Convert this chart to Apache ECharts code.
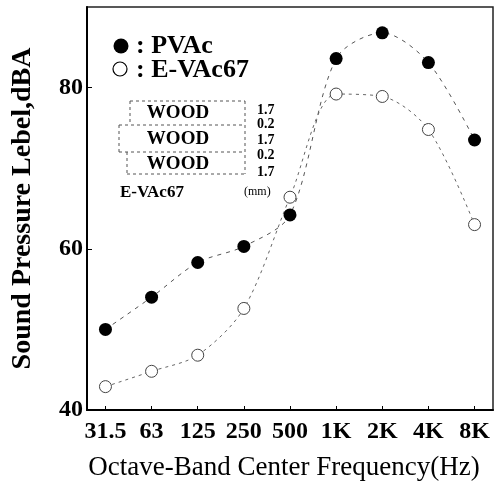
<!DOCTYPE html>
<html style="height: 100%">
<head>
	<meta charset="utf-8">
	<title>Sound Pressure Level</title>
	<script src="https://cdn.jsdelivr.net/npm/echarts@6/dist/echarts.min.js"></script>
</head>
<body style="height: 100%; margin: 0; background: #fff">
	<div id="main" style="width: 497px; height: 484px"></div>
	<script type="text/javascript">
		// octave bands
		var bands = ['31.5', '63', '125', '250', '500', '1K', '2K', '4K', '8K'];
		// dBA
		var pvac = [50.0, 54.0, 58.3, 60.3, 64.2, 83.6, 86.8, 83.1, 73.5];
		var evac = [42.9, 44.8, 46.8, 52.6, 66.4, 79.2, 78.9, 74.8, 63.0];
		var yTicks = [40, 60, 80];
		var layers = ['1.7', '0.2', '1.7', '0.2', '1.7'];

		var serif = 'Liberation Serif';
		var pos = bands.map(function(b, i){ return i; });
		var pair = function(arr){
			return arr.map(function(v, i){ return [i, v]; });
		};

		var myChart = echarts.init(document.getElementById('main'));

		var dashLine = function(x1, y1, x2, y2){
			return {
				type: 'line',
				shape: {x1: x1, y1: y1, x2: x2, y2: y2},
				style: {stroke: '#555', lineWidth: 1, lineDash: [3, 3]}
			};
		};

		var gfx = [
			{type: 'circle', shape: {cx: 121, cy: 46, r: 7.5}, style: {fill: '#000'}},
			{type: 'text', x: 136, y: 46, style: {text: ': PVAc', font: 'bold 26px "' + serif + '"', fill: '#000', verticalAlign: 'middle'}},
			{type: 'circle', shape: {cx: 120, cy: 69, r: 7}, style: {fill: '#fff', stroke: '#000', lineWidth: 1.2}},
			{type: 'text', x: 136, y: 70, style: {text: ': E-VAc67', font: 'bold 26px "' + serif + '"', fill: '#000', verticalAlign: 'middle'}},
			// wood / e-vac sandwich sketch
			dashLine(130, 101, 245, 101),
			dashLine(119, 125, 245, 125),
			dashLine(119, 152, 245, 152),
			dashLine(127, 174, 245, 174),
			dashLine(245, 101, 245, 174),
			dashLine(130, 101, 130, 125),
			dashLine(119, 125, 119, 152),
			dashLine(127, 152, 127, 174),
			{type: 'text', x: 178, y: 113, style: {text: 'WOOD', font: 'bold 19px "' + serif + '"', fill: '#000', align: 'center', verticalAlign: 'middle'}},
			{type: 'text', x: 178, y: 139, style: {text: 'WOOD', font: 'bold 19px "' + serif + '"', fill: '#000', align: 'center', verticalAlign: 'middle'}},
			{type: 'text', x: 178, y: 164, style: {text: 'WOOD', font: 'bold 19px "' + serif + '"', fill: '#000', align: 'center', verticalAlign: 'middle'}},
			{type: 'text', x: 120, y: 193, style: {text: 'E-VAc67', font: 'bold 17px "' + serif + '"', fill: '#000', verticalAlign: 'middle'}},
			{type: 'text', x: 244, y: 192, style: {text: '(mm)', font: '12px "' + serif + '"', fill: '#000', verticalAlign: 'middle'}},
			// x axis title, a bit left of the plot centre as in the original
			{type: 'text', x: 284, y: 468, style: {text: 'Octave-Band Center Frequency(Hz)', font: '27px "' + serif + '"', fill: '#000', align: 'center', verticalAlign: 'middle'}}
		];
		var layerY = [110, 124, 140, 155, 172];
		layers.forEach(function(t, i){
			gfx.push({type: 'text', x: 257, y: layerY[i], style: {text: t, font: 'bold 14px "' + serif + '"', fill: '#000', verticalAlign: 'middle'}});
		});

		var option = {
			animation: false,
			backgroundColor: '#fff',
			grid: {left: 87, right: 4, top: 7, bottom: 74, show: true, borderColor: '#222', borderWidth: 1.5},
			xAxis: {
				type: 'value',
				min: -0.4,
				max: 8.4,
				axisLine: {onZero: false, lineStyle: {color: '#000', width: 2}},
				axisTick: {inside: true, length: 4, customValues: pos, lineStyle: {color: '#000'}},
				splitLine: {show: false},
				axisLabel: {
					customValues: pos,
					margin: 10,
					fontFamily: serif, fontWeight: 'bold', fontSize: 24, color: '#000',
					formatter: function(v){ return bands[Math.round(v)]; }
				}
			},
			yAxis: {
				type: 'value',
				min: 40,
				max: 90,
				name: 'Sound Pressure Lebel,dBA',
				nameLocation: 'middle',
				nameGap: 50,
				nameTextStyle: {fontFamily: serif, fontWeight: 'bold', fontSize: 28, color: '#000'},
				axisLine: {show: true, onZero: false, lineStyle: {color: '#000', width: 2}},
				axisTick: {inside: true, length: 5, customValues: yTicks, lineStyle: {color: '#000'}},
				splitLine: {show: false},
				axisLabel: {
					customValues: yTicks,
					margin: 4,
					fontFamily: serif, fontWeight: 'bold', fontSize: 24, color: '#000'
				}
			},
			series: [
				{
					name: 'PVAc',
					type: 'line',
					smooth: 0.3,
					data: pair(pvac),
					symbol: 'circle',
					symbolSize: 13,
					itemStyle: {color: '#000'},
					lineStyle: {color: '#555', width: 1, type: [4, 5]}
				},
				{
					name: 'E-VAc67',
					type: 'line',
					smooth: 0.3,
					data: pair(evac),
					symbol: 'circle',
					symbolSize: 12,
					itemStyle: {color: '#fff', borderColor: '#444', borderWidth: 1},
					lineStyle: {color: '#666', width: 1, type: [3, 4]}
				}
			],
			graphic: gfx
		};

		myChart.setOption(option);
	</script>
</body>
</html>
